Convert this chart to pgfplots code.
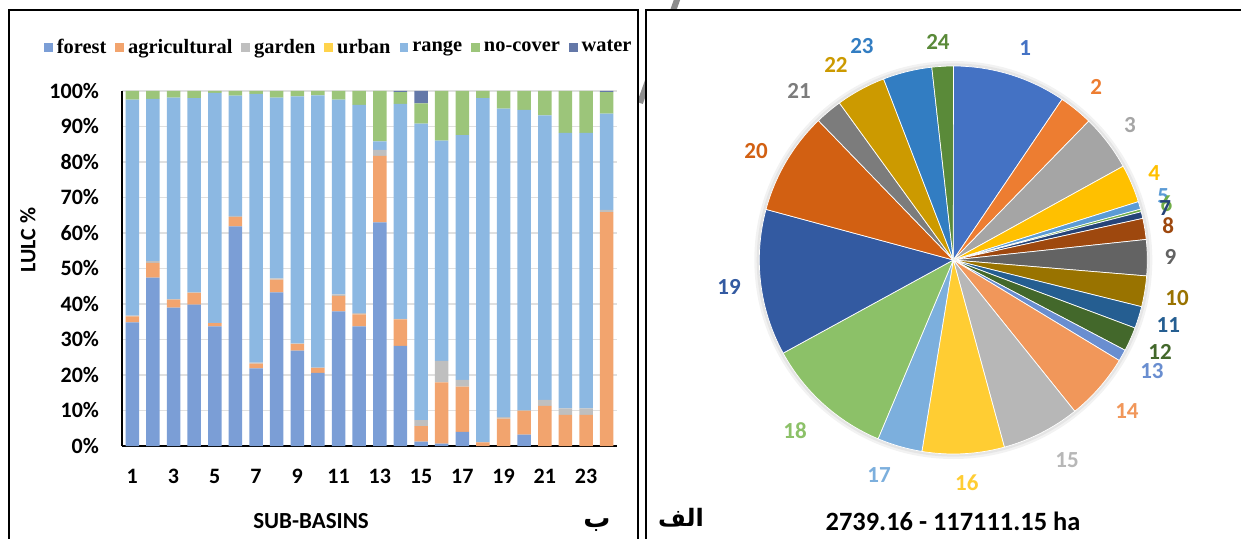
\documentclass[border=0pt]{standalone}
\usepackage{fontspec}
\usepackage{pgfplots}
\usepackage{pgfplotstable}
\pgfplotsset{compat=1.18}
\setmainfont{Carlito}
\newfontfamily\calibri{Carlito}
\newfontfamily\timesf{Liberation Serif}
\newfontfamily\arabicfont[Script=Arabic]{DejaVu Sans}
\TeXXeTstate=1

\definecolor{cforest}{HTML}{7B9ED6}
\definecolor{cagri}{HTML}{F2A46E}
\definecolor{cgarden}{HTML}{BFBFBF}
\definecolor{curban}{HTML}{FFD34B}
\definecolor{crange}{HTML}{8CB8E2}
\definecolor{cnocover}{HTML}{9CC57A}
\definecolor{cwater}{HTML}{6478A8}

\definecolor{c1}{HTML}{4472C4}
\definecolor{c2}{HTML}{ED7D31}
\definecolor{c3}{HTML}{A5A5A5}
\definecolor{c4}{HTML}{FFC000}
\definecolor{c5}{HTML}{5B9BD5}
\definecolor{c6}{HTML}{70AD47}
\definecolor{c7}{HTML}{264478}
\definecolor{c8}{HTML}{9E480E}
\definecolor{c9}{HTML}{636363}
\definecolor{c10}{HTML}{997300}
\definecolor{c11}{HTML}{255E91}
\definecolor{c12}{HTML}{43682B}
\definecolor{c13}{HTML}{698ED0}
\definecolor{c14}{HTML}{F1975A}
\definecolor{c15}{HTML}{B7B7B7}
\definecolor{c16}{HTML}{FFCD33}
\definecolor{c17}{HTML}{7CAFDD}
\definecolor{c18}{HTML}{8CC168}
\definecolor{c19}{HTML}{335AA1}
\definecolor{c20}{HTML}{D26012}
\definecolor{c21}{HTML}{7C7C7C}
\definecolor{c22}{HTML}{CC9A00}
\definecolor{c23}{HTML}{327DC2}
\definecolor{c24}{HTML}{5A8A39}

% LULC shares (%) per sub-basin
\pgfplotstableread{
sb forest agri garden urban range nocover water
1  34.8 1.7  0.2 0 60.9 2.4  0
2  47.4 4.2  0.5 0 45.7 2.2  0
3  39.0 2.2  0.2 0 56.7 1.9  0
4  39.8 3.3  0.2 0 54.7 2.0  0
5  33.7 0.9  0.1 0 64.8 0.5  0
6  61.9 2.6  0.3 0 33.9 1.3  0
7  21.9 1.3  0.3 0 75.7 0.8  0
8  43.3 3.6  0.3 0 50.9 1.9  0
9  26.9 1.8  0.2 0 69.6 1.5  0
10 20.6 1.4  0.1 0 76.7 1.2  0
11 37.9 4.4  0.4 0 54.9 2.4  0
12 33.7 3.4  0.3 0 58.7 3.9  0
13 63.0 18.7 1.7 0 2.4  14.2 0
14 28.2 7.5  0.1 0 60.6 3.3  0.3
15 1.2  4.4  1.7 0 83.5 5.7  3.5
16 0.7  17.2 6.1 0 62.0 14.0 0
17 4.0  12.7 1.9 0 69.0 12.4 0
18 0.0  1.0  0.1 0 96.9 2.0  0
19 0.0  7.7  0.4 0 86.9 5.0  0
20 3.2  6.7  0.2 0 84.6 5.3  0
21 0.0  11.3 1.7 0 80.1 6.9  0
22 0.0  8.8  1.8 0 77.6 11.8 0
23 0.0  8.8  1.8 0 77.6 11.8 0
24 0.0  65.9 0.6 0 27.1 6.1  0.3
}\lulctable

% sub-basin area shares (%) for the pie, label positions in radius units
\pgfplotstableread{
id pct col lx ly
1  9.47  c1  0.370 1.093
2  2.83  c2  0.736 0.892
3  4.67  c3  0.911 0.696
4  3.17  c4  1.035 0.448
5  0.64  c5  1.082 0.330
6  0.22  c6  1.098 0.289
7  0.56  c7  1.092 0.268
8  1.75  c8  1.108 0.175
9  3.00  c9  1.119 0.015
10 2.56  c10 1.153 -0.196
11 1.83  c11 1.108 -0.335
12 2.00  c12 1.066 -0.474
13 0.97  c13 1.024 -0.572
14 5.56  c14 0.895 -0.778
15 6.53  c15 0.586 -1.031
16 6.83  c16 0.070 -1.149
17 3.75  c17 -0.383 -1.108
18 10.69 c18 -0.816 -0.881
19 12.17 c19 -1.156 -0.139
20 8.56  c20 -1.017 0.562
21 2.25  c21 -0.795 0.871
22 4.14  c22 -0.605 1.005
23 4.08  c23 -0.471 1.103
24 1.78  c24 -0.079 1.124
}\pietable

\pgfplotsset{sqlegend/.style={legend image code/.code={\fill[##1] (0pt,-2.2pt) rectangle (4.4pt,2.2pt);}}}

\begin{document}
\begin{tikzpicture}
\useasboundingbox (0,0) rectangle (620.5pt,-269.5pt);
\draw[line width=3pt, color=gray!90] (339pt,1.5pt) -- (320pt,-51.5pt);
\fill[white] (323pt,-5pt) rectangle (620.5pt,-270pt);
\draw[line width=1pt] (4.5pt,-270pt) -- (4.5pt,-5pt) -- (318.8pt,-5pt) -- (318.8pt,-270pt);
\draw[line width=1pt] (323pt,-270pt) -- (323pt,-5pt) -- (621pt,-5pt);

\begin{axis}[
  scale only axis, width=247.5pt, height=177.5pt,
  at={(61pt,-223pt)}, anchor=south west,
  ybar stacked, bar width=0.65,
  xmin=0.5, xmax=24.5, ymin=0, ymax=100,
  xtick={1,3,...,23}, xticklabels={1,3,5,7,9,11,13,15,17,19,21,23},
  ytick={0,10,...,100},
  yticklabels={0\%,10\%,20\%,30\%,40\%,50\%,60\%,70\%,80\%,90\%,100\%},
  axis x line*=bottom, axis y line*=left,
  axis line style={black, line width=1pt, -},
  major tick length=0pt,
  ymajorgrids, grid style={black!12, line width=0.7pt},
  tick label style={font=\calibri\bfseries\fontsize{11}{13}\selectfont},
  xticklabel style={yshift=-8pt},
  yticklabel style={xshift=-8pt},
  legend columns=7,
  legend style={at={(0.44,1.122)}, anchor=center, draw=none, fill=none,
    font=\timesf\bfseries\fontsize{10.2}{12}\selectfont, inner sep=0pt,
    /tikz/every even column/.append style={column sep=2.5pt}},
  legend cell align=left,
]
\addplot[fill=cforest, draw=none, sqlegend] table[x=sb, y=forest] {\lulctable};
\addplot[fill=cagri, draw=none, sqlegend] table[x=sb, y=agri] {\lulctable};
\addplot[fill=cgarden, draw=none, sqlegend] table[x=sb, y=garden] {\lulctable};
\addplot[fill=curban, draw=none, sqlegend] table[x=sb, y=urban] {\lulctable};
\addplot[fill=crange, draw=none, sqlegend] table[x=sb, y=range] {\lulctable};
\addplot[fill=cnocover, draw=none, sqlegend] table[x=sb, y=nocover] {\lulctable};
\addplot[fill=cwater, draw=none, sqlegend] table[x=sb, y=water] {\lulctable};
\legend{forest,agricultural,garden,urban,range,no-cover,water}
\end{axis}

\begin{axis}[
  at={(476.65pt,-130pt)}, anchor=center, x=97pt, y=97pt,
  xmin=-1.3, xmax=1.3, ymin=-1.3, ymax=1.3, hide axis, clip=false]
\pgfplotsextra{
  \fill[black, opacity=0.05] (axis cs:0,0) circle[radius=99.5pt];
  \fill[black, opacity=0.05] (axis cs:0,0) circle[radius=98.3pt];
  \pgfplotstablegetrowsof{\pietable}
  \pgfmathtruncatemacro\pieN{\pgfplotsretval-1}
  \gdef\piecum{0}
  \foreach \i in {0,...,\pieN}{
    \pgfplotstablegetelem{\i}{pct}\of\pietable \let\pp\pgfplotsretval
    \pgfplotstablegetelem{\i}{col}\of\pietable \edef\slcol{\pgfplotsretval}
    \pgfmathsetmacro\sa{90-3.6*\piecum}
    \pgfmathsetmacro\sb{90-3.6*(\piecum+\pp)}
    \pgfmathsetmacro\sx{cos(\sa)}
    \pgfmathsetmacro\sy{sin(\sa)}
    \fill[fill=\slcol, draw=white, line width=0.35pt] (axis cs:0,0) -- (axis cs:\sx,\sy) arc[start angle=\sa, end angle=\sb, radius=97pt] -- cycle;
    \pgfmathsetmacro\newcum{\piecum+\pp}
    \xdef\piecum{\newcum}
  }
  \foreach \i in {0,...,\pieN}{
    \pgfplotstablegetelem{\i}{id}\of\pietable \edef\lid{\pgfplotsretval}
    \pgfplotstablegetelem{\i}{col}\of\pietable \edef\slcol{\pgfplotsretval}
    \pgfplotstablegetelem{\i}{lx}\of\pietable \edef\lxx{\pgfplotsretval}
    \pgfplotstablegetelem{\i}{ly}\of\pietable \edef\lyy{\pgfplotsretval}
    \node[text=\slcol, font=\calibri\bfseries\fontsize{11.5}{13}\selectfont, inner sep=0pt] at (axis cs:\lxx,\lyy) {\lid};
  }
}
\end{axis}

\node[rotate=90, font=\calibri\bfseries\fontsize{11}{13}\selectfont] at (14pt,-120pt) {LULC \%};
\node[font=\calibri\bfseries\fontsize{11.5}{13}\selectfont] at (155.5pt,-260.5pt) {SUB-BASINS};
\node[font=\arabicfont\bfseries\fontsize{13.5}{15}\selectfont] at (298.5pt,-262.5pt) {\beginR ب\endR};
\node[font=\arabicfont\bfseries\fontsize{12}{14}\selectfont] at (340.5pt,-259pt) {\beginR الف\endR};
\node[font=\calibri\bfseries\fontsize{13.2}{15}\selectfont] at (476.5pt,-260.5pt) {2739.16 - 117111.15 ha};
\end{tikzpicture}
\end{document}
